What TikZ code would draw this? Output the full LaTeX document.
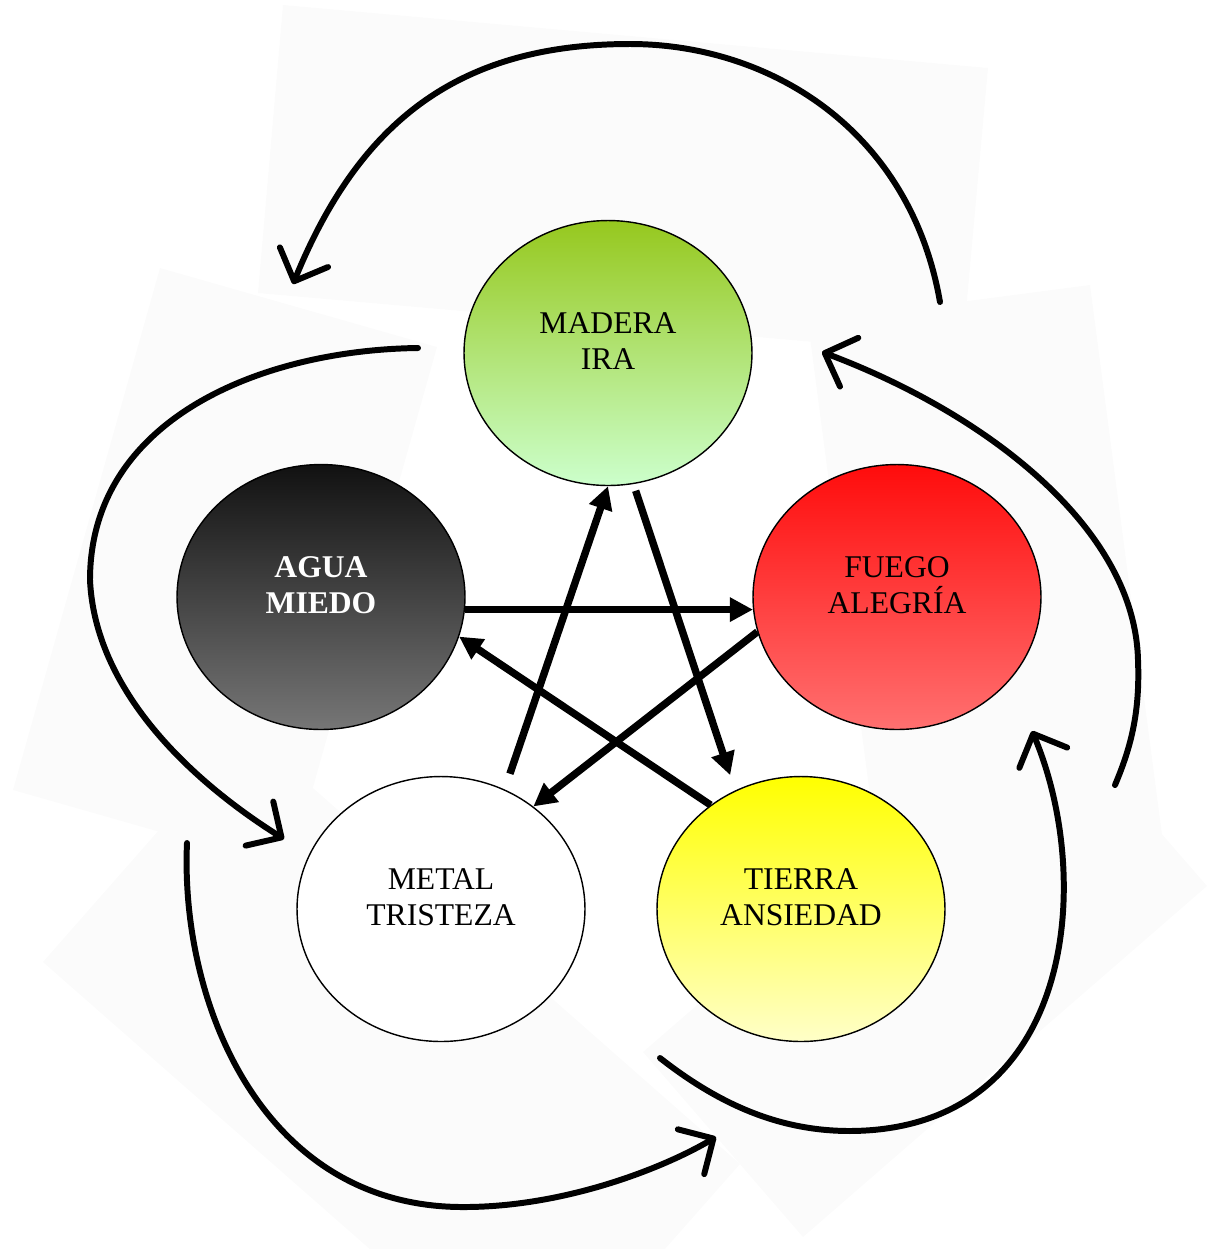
\documentclass[tikz,border=0pt]{standalone}
\usepackage{fontspec}
\setmainfont{Liberation Serif}
\usetikzlibrary{arrows.meta,shapes.geometric}
\definecolor{maderaA}{RGB}{150,200,30}
\definecolor{maderaB}{RGB}{204,255,204}
\definecolor{aguaA}{RGB}{17,17,17}
\definecolor{aguaB}{RGB}{118,118,118}
\definecolor{fuegoA}{RGB}{255,12,12}
\definecolor{fuegoB}{RGB}{255,112,112}
\definecolor{tierraA}{RGB}{255,255,0}
\definecolor{tierraB}{RGB}{255,255,200}
\definecolor{papel}{RGB}{251,251,251}
\tikzset{
  % elipse de cada elemento
  elem/.style={
    ellipse,
    draw,
    line width=0.8pt,
    minimum width=5.76cm,
    minimum height=5.3cm
  },
  % texto del elemento
  etxt/.style={align=center, yshift=0.23cm, font=\fontsize{18}{20.5}\selectfont},
  % flechas del centro
  flecha/.style={-{Triangle[length=0.46cm, width=0.46cm]}, line width=4.2pt},
  % flechas de fuera
  curva/.style={-{Straight Barb[length=0.52cm, width=1.04cm, round]}, line width=3.4pt, line cap=round},
}

\begin{document}
\begin{tikzpicture}[x=0.02cm, y=-0.02cm]
    \useasboundingbox (0,0) rectangle (1209,1249);

    % fondos
    \fill[papel] (283,5) -- (988,68) -- (962,355) -- (258,293) -- cycle;
    \fill[papel] (160,268) -- (437,347) -- (290,869) -- (13,790) -- cycle;
    \fill[papel] (808,322) -- (1090,285) -- (1164,850) -- (882,887) -- cycle;
    \fill[papel] (43,962) -- (247,730) -- (740,1164) -- (536,1395) -- cycle;
    \fill[papel] (643,1052) -- (1047,702) -- (1207,886) -- (803,1237) -- cycle;

    % elementos
    \node[elem, top color=maderaA, bottom color=maderaB,
          label={[etxt]center:MADERA\\IRA}] (madera) at (608,353) {};
    \node[elem, top color=aguaA, bottom color=aguaB,
          label={[etxt, text=white, font=\fontsize{18}{20.5}\selectfont\bfseries]center:AGUA\\MIEDO}] (agua) at (321,597) {};
    \node[elem, top color=fuegoA, bottom color=fuegoB,
          label={[etxt]center:FUEGO\\ALEGRÍA}] (fuego) at (897,597) {};
    \node[elem, fill=white,
          label={[etxt]center:METAL\\TRISTEZA}] (metal) at (441,909) {};
    \node[elem, top color=tierraA, bottom color=tierraB,
          label={[etxt]center:TIERRA\\ANSIEDAD}] (tierra) at (801,909) {};

    % estrella
    \draw[flecha] (agua.-5) -- (fuego.185);
    \draw[flecha] (fuego.194) -- (metal.48);
    \draw[flecha] (tierra.131) -- (agua.-16);
    \draw[flecha, shorten <=0.33cm] (metal.62) -- (madera.-90);
    \draw[flecha, shorten <=0.14cm, shorten >=0.32cm] (madera.-79) -- (tierra.119);

    % puntos de las curvas
    \coordinate (sup-ini) at (940,302);
    \coordinate (sup-top) at (630,44);
    \coordinate (sup-fin) at (293,284);
    \coordinate (izq-ini) at (418,348);
    \coordinate (izq-med) at (90,580);
    \coordinate (izq-fin) at (284,839);
    \coordinate (der-ini) at (1115,785);
    \coordinate (der-med) at (1138,660);
    \coordinate (der-fin) at (822,352);
    \coordinate (infi-ini) at (187,843);
    \coordinate (infi-med) at (460,1207);
    \coordinate (infi-fin) at (716,1137);
    \coordinate (infd-ini) at (660,1058);
    \coordinate (infd-med) at (850,1131);
    \coordinate (infd-fin) at (1032,731);

    % curvas
    \draw[curva] (sup-ini) .. controls (910,130) and (770,44) .. (sup-top)
                 .. controls (460,44) and (360,120) .. (sup-fin);
    \draw[curva] (izq-ini) .. controls (260,350) and (90,420) .. (izq-med)
                 .. controls (95,690) and (190,780) .. (izq-fin);
    \draw[curva] (der-ini) .. controls (1132,745) and (1140,710) .. (der-med)
                 .. controls (1135,530) and (990,415) .. (der-fin);
    \draw[curva] (infi-ini) .. controls (180,1000) and (260,1205) .. (infi-med)
                 .. controls (560,1208) and (660,1170) .. (infi-fin);
    \draw[curva] (infd-ini) .. controls (720,1105) and (780,1131) .. (infd-med)
                 .. controls (1075,1130) and (1095,880) .. (infd-fin);
\end{tikzpicture}
\end{document}
